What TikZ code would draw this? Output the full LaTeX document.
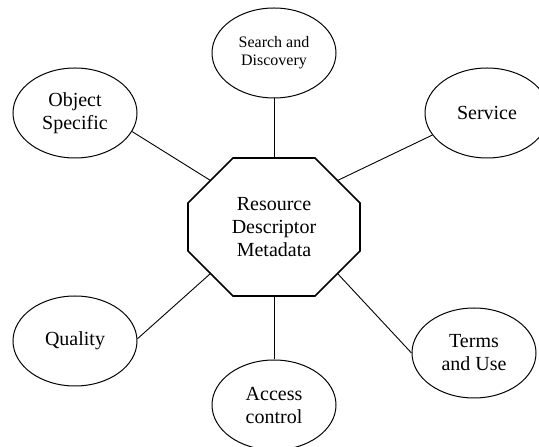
\documentclass[tikz,border=0pt]{standalone}
\usepackage{fontspec}
\setmainfont{Liberation Serif}
\usetikzlibrary{shapes.geometric}

\begin{document}
\begin{tikzpicture}[x=1pt,y=1pt,
  facet/.style={ellipse,draw,line width=1pt,minimum width=124pt,minimum height=90pt,inner sep=0pt,align=center,font=\fontsize{20}{23}\selectfont},
  link/.style={line width=0.9pt}]
\useasboundingbox (0,0) rectangle (539,447);

\node[align=center,font=\fontsize{20}{23}\selectfont] (rdm) at (274,220) {Resource\\Descriptor\\Metadata};
\coordinate (rdmN) at (274,289);
\coordinate (rdmS) at (274,151);
\coordinate (rdmNW) at (210.5,266.5);
\coordinate (rdmNE) at (337.5,266.5);
\coordinate (rdmSW) at (210.5,173.5);
\coordinate (rdmSE) at (337.5,173.5);
\draw[line width=1.6pt,line join=miter] (233,289) -- (315,289) -- (360,244) -- (360,196)
  -- (315,151) -- (233,151) -- (188,196) -- (188,244) -- cycle;

\node[facet,font=\fontsize{16}{18}\selectfont] (search) at (274,394) {Search and\\Discovery};
\node[facet] (object) at (75,334) {Object\\Specific};
\node[facet] (service) at (487,334) {Service};
\node[facet] (quality) at (75,106) {Quality};
\node[facet] (access) at (274,42) {Access\\control};
\node[facet] (terms) at (474,94) {Terms\\and Use};

\draw[link] (search.south) -- (rdmN);
\draw[link] (object.342) -- (rdmNW);
\draw[link] (service.202) -- (rdmNE);
\draw[link] (quality.2) -- (rdmSW);
\draw[link] (terms.west) -- (rdmSE);
\draw[link] (rdmS) -- (access.north);
\end{tikzpicture}
\end{document}
